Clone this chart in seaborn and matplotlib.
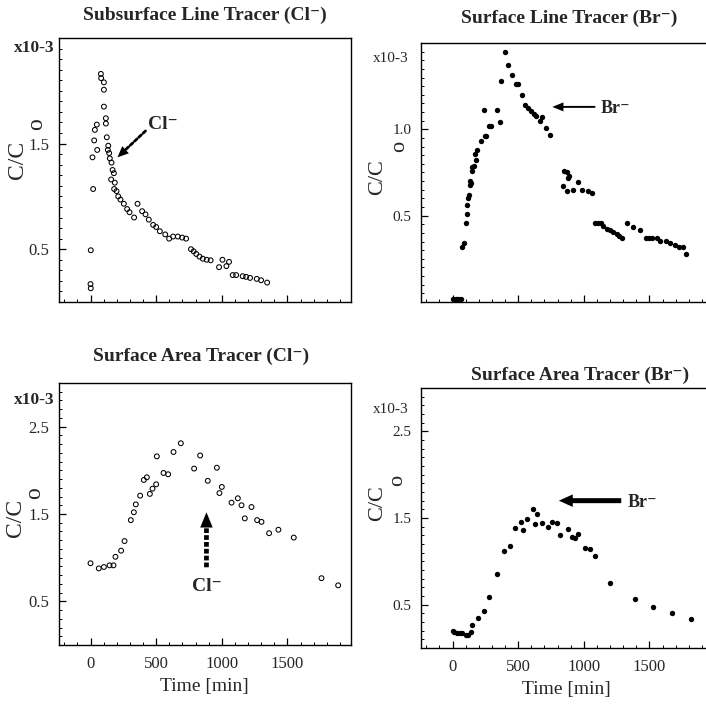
import numpy as np
import pandas as pd
import matplotlib
matplotlib.use("Agg")
import matplotlib.pyplot as plt
import seaborn as sns
from matplotlib.ticker import FixedLocator, MultipleLocator

# ---------------- data (C/Co in units of 1e-3, time in min) ----------------
# Subsurface Line Tracer (Cl-)
sub_cl_t = [0, 2, 2, 20, 15, 51, 28, 33, 48, 79, 81, 102, 102, 102, 117, 117, 124, 135,
            132, 142, 147, 160, 168, 178, 157, 185, 180, 198, 211, 228, 254, 279, 297,
            332, 358, 393, 419, 444, 477, 500, 528, 569, 599, 629, 665, 698, 728, 765,
            785, 805, 830, 855, 885, 915, 979, 1005, 1035, 1055, 1083, 1109, 1159, 1185,
            1215, 1266, 1299, 1345]
sub_cl_c = [0.17, 0.13, 0.49, 1.07, 1.37, 1.44, 1.53, 1.63, 1.68, 2.16, 2.12, 2.08, 2.01,
            1.85, 1.74, 1.69, 1.56, 1.48, 1.44, 1.41, 1.36, 1.32, 1.25, 1.22, 1.16, 1.13,
            1.07, 1.05, 1.00, 0.97, 0.93, 0.88, 0.85, 0.80, 0.93, 0.86, 0.83, 0.78, 0.73,
            0.71, 0.67, 0.64, 0.60, 0.62, 0.62, 0.61, 0.60, 0.50, 0.48, 0.455, 0.43, 0.41,
            0.40, 0.395, 0.33, 0.40, 0.34, 0.38, 0.255, 0.255, 0.244, 0.238, 0.228, 0.219,
            0.206, 0.184]

# Surface Line Tracer (Br-)
line_br_t = [5, 25, 45, 65, 75, 85, 100, 108, 112, 120, 123, 130, 133, 137, 148, 152, 160,
             169, 179, 187, 220, 245, 258, 280, 296, 360, 242, 341, 372, 400, 423, 454, 481,
             499, 532, 555, 575, 601, 621, 639, 664, 682, 715, 740, 838, 849, 869, 882, 889,
             874, 914, 955, 983, 1034, 1059, 1085, 1110, 1128, 1148, 1173, 1198, 1224, 1249,
             1270, 1287, 1326, 1376, 1427, 1473, 1498, 1523, 1554, 1579, 1625, 1656, 1694,
             1727, 1752, 1777]
line_br_c = [0.02, 0.02, 0.02, 0.02, 0.32, 0.34, 0.46, 0.51, 0.56, 0.60, 0.62, 0.68, 0.70,
             0.69, 0.76, 0.78, 0.79, 0.86, 0.82, 0.88, 0.93, 0.96, 0.96, 1.02, 1.02, 1.04,
             1.11, 1.11, 1.28, 1.45, 1.37, 1.315, 1.26, 1.26, 1.20, 1.14, 1.125, 1.105, 1.09,
             1.08, 1.05, 1.07, 1.01, 0.97, 0.67, 0.76, 0.75, 0.72, 0.73, 0.64, 0.65, 0.695,
             0.65, 0.64, 0.63, 0.455, 0.455, 0.455, 0.44, 0.425, 0.415, 0.405, 0.395, 0.385,
             0.37, 0.455, 0.435, 0.415, 0.373, 0.373, 0.373, 0.373, 0.354, 0.354, 0.34, 0.33,
             0.32, 0.32, 0.278]

# Surface Area Tracer (Cl-)
area_cl_t = [0, 63, 102, 145, 175, 190, 233, 259, 307, 330, 345, 378, 406, 429, 452, 472,
             500, 505, 556, 591, 632, 688, 789, 835, 893, 962, 982, 1000, 1074, 1122, 1150,
             1175, 1226, 1269, 1302, 1360, 1431, 1548, 1759, 1886]
area_cl_c = [0.936, 0.877, 0.893, 0.912, 0.912, 1.01, 1.08, 1.19, 1.43, 1.52, 1.61, 1.71,
             1.89, 1.92, 1.73, 1.79, 1.84, 2.16, 1.97, 1.955, 2.21, 2.31, 2.02, 2.17, 1.88,
             2.03, 1.74, 1.81, 1.63, 1.68, 1.60, 1.45, 1.58, 1.43, 1.41, 1.28, 1.32, 1.23,
             0.765, 0.683]

# Surface Area Tracer (Br-)
area_br_t = [0, 12, 32, 55, 75, 100, 118, 138, 151, 197, 242, 280, 339, 395, 435, 476, 519,
             537, 570, 610, 643, 625, 684, 725, 758, 798, 818, 877, 909, 930, 953, 1008, 1044,
             1087, 1196, 1392, 1526, 1671, 1816]
area_br_c = [0.192, 0.184, 0.176, 0.176, 0.172, 0.145, 0.145, 0.184, 0.265, 0.349, 0.426,
             0.588, 0.853, 1.118, 1.176, 1.384, 1.453, 1.357, 1.49, 1.60, 1.541, 1.43, 1.445,
             1.392, 1.453, 1.445, 1.307, 1.368, 1.276, 1.268, 1.31, 1.15, 1.138, 1.061, 0.749,
             0.568, 0.472, 0.407, 0.33]

titles = ["Subsurface Line Tracer (Cl\u207b)", "Surface Line Tracer (Br\u207b)",
          "Surface Area Tracer (Cl\u207b)", "Surface Area Tracer (Br\u207b)"]
xticks_major = [0, 500, 1000, 1500]

# ---------------- style ----------------
sns.set_style("ticks")
SERIF = ['Liberation Serif', 'DejaVu Serif']
plt.rcParams['font.family'] = SERIF
plt.rcParams['axes.linewidth'] = 1.0

W, H = 706, 705
fig = plt.figure(figsize=(W / 100, H / 100), dpi=100)


def add_ax(left, top, right, bottom):
    return fig.add_axes([left / W, 1 - bottom / H, (right - left) / W, (bottom - top) / H])


XLIM = (-240, 1980)

ax_tl = add_ax(59, 38, 350.5, 302)
ax_tr = add_ax(421, 43, 712.5, 302)
ax_bl = add_ax(59, 383, 350.5, 645)
ax_br = add_ax(421, 388, 712.5, 648)

panels = [
    (ax_tl, sub_cl_t, sub_cl_c, False, (0, 2.5), [0.5, 1.5], 0.1, True),
    (ax_tr, line_br_t, line_br_c, True, (0, 1.5), [0.5, 1.0], 0.05, False),
    (ax_bl, area_cl_t, area_cl_c, False, (0, 3.0), [0.5, 1.5, 2.5], 0.1, True),
    (ax_br, area_br_t, area_br_c, True, (0, 3.0), [0.5, 1.5, 2.5], 0.1, False),
]

for i, (ax, t, c, filled, ylim, yt, yminor, left) in enumerate(panels):
    df = pd.DataFrame({"t": t, "c": c})
    if filled:
        sns.scatterplot(data=df, x="t", y="c", ax=ax, color="black", s=15,
                        linewidth=0, marker="o")
    else:
        sns.scatterplot(data=df, x="t", y="c", ax=ax, color="black", s=12,
                        linewidth=0.75, marker="o")
        coll = ax.collections[-1]
        coll.set_facecolor("none")
        coll.set_edgecolor("black")
    ax.set_xlim(*XLIM)
    ax.set_ylim(*ylim)
    ax.set_xlabel("")
    ax.set_ylabel("")
    for sp in ax.spines.values():
        sp.set_visible(True)
        sp.set_color("black")
        sp.set_linewidth(1.0)
    ax.xaxis.set_major_locator(FixedLocator(xticks_major))
    ax.xaxis.set_minor_locator(MultipleLocator(100))
    ax.yaxis.set_major_locator(FixedLocator(yt))
    ax.yaxis.set_minor_locator(MultipleLocator(yminor))
    fs_tick = 12 if left else 11
    ax.tick_params(axis="both", which="major", direction="in", length=5, width=0.9,
                   labelsize=fs_tick, pad=7, color="black", top=False, right=False)
    ax.tick_params(axis="both", which="minor", direction="in", length=2.5, width=0.7,
                   color="black", top=False, right=False)
    ax.set_yticklabels([f"{v:.1f}" for v in yt])
    if i < 2:
        ax.tick_params(axis="x", labelbottom=False)
    else:
        ax.set_xticklabels([str(v) for v in xticks_major])
        ax.tick_params(axis="x", which="major", pad=8, labelsize=12)
        ax.set_xlabel("Time [min]", fontsize=14, labelpad=4)
    ax.set_facecolor("white")

# titles
for (x, y, s) in [(205, 15, titles[0]), (569, 18, titles[1]),
                  (201, 356, titles[2]), (580, 375, titles[3])]:
    fig.text(x / W, 1 - y / H, s, ha="center", va="center", fontsize=14,
             fontweight="bold", family=SERIF)

# y-axis labels (C/Co) and x10-3 markers
for (cx, cy, ox, oy, fs) in [(17, 160, 37, 124, 17), (378, 177, 400, 146, 16),
                            (15, 518, 35, 493, 17), (378, 503, 398, 480, 16)]:
    fig.text(cx / W, 1 - cy / H, "C/C", rotation=90, ha="center", va="center",
             fontsize=fs, family=SERIF)
    fig.text(ox / W, 1 - oy / H, "o", rotation=90, ha="center", va="center",
             fontsize=fs, family=SERIF)

for (xr, y, fs, fw) in [(55, 48, 12.5, "bold"), (408, 59, 11, "normal"),
                        (55, 400, 12.5, "bold"), (408, 410, 11, "normal")]:
    fig.text(xr / W, 1 - y / H, "x10-3", ha="right", va="center", fontsize=fs,
             fontweight=fw, family=SERIF)


# ---------------- annotations ----------------
def head(ax, xy, direction_pts, hl, hw, lw=0.0):
    dx, dy = direction_pts
    n = np.hypot(dx, dy)
    ax.annotate("", xy=xy, xycoords="data",
                xytext=(dx / n * hl, dy / n * hl), textcoords="offset points",
                arrowprops=dict(arrowstyle=f"simple,head_length=1,head_width={hw / hl:.3f},tail_width=0.01",
                                mutation_scale=hl, fc="black", ec="black", lw=lw,
                                shrinkA=0, shrinkB=0))


# TL dashed arrow
ax_tl.annotate("", xy=(205, 1.37), xytext=(419, 1.62),
               arrowprops=dict(arrowstyle="-", lw=2.0, ls=(0, (1.2, 0.9)), color="black",
                               shrinkA=0, shrinkB=6))
head(ax_tl, (205, 1.37), (28, 26), 8, 7)
ax_tl.text(440, 1.68, "Cl\u207b", fontsize=14, fontweight="bold", ha="left", va="center",
           family=SERIF)

# TR solid thin arrow
ax_tr.annotate("", xy=(760, 1.13), xytext=(1082, 1.13),
               arrowprops=dict(arrowstyle="-", lw=1.4, color="black", shrinkA=0, shrinkB=5))
head(ax_tr, (760, 1.13), (1, 0), 8, 6.5)
ax_tr.text(1125, 1.12, "Br\u207b", fontsize=13, fontweight="bold", ha="left", va="center",
           family=SERIF)

# BL dashed thick vertical arrow
ax_bl.annotate("", xy=(883, 1.52), xytext=(883, 0.89),
               arrowprops=dict(arrowstyle="-", lw=3.4, ls=(0, (1.0, 0.45)), color="black",
                               shrinkA=0, shrinkB=9, capstyle="butt"))
head(ax_bl, (883, 1.52), (0, -1), 11, 9)
ax_bl.text(883, 0.67, "Cl\u207b", fontsize=14, fontweight="bold", ha="center", va="center",
           family=SERIF)

# BR thick solid arrow
ax_br.annotate("", xy=(810, 1.70), xytext=(1285, 1.70),
               arrowprops=dict(arrowstyle="-", lw=3.6, color="black", shrinkA=0, shrinkB=8,
                               capstyle="butt"))
head(ax_br, (810, 1.70), (1, 0), 10, 9)
ax_br.text(1336, 1.68, "Br\u207b", fontsize=13, fontweight="bold", ha="left", va="center",
           family=SERIF)

fig.savefig("out.png", dpi=100, facecolor="white")
